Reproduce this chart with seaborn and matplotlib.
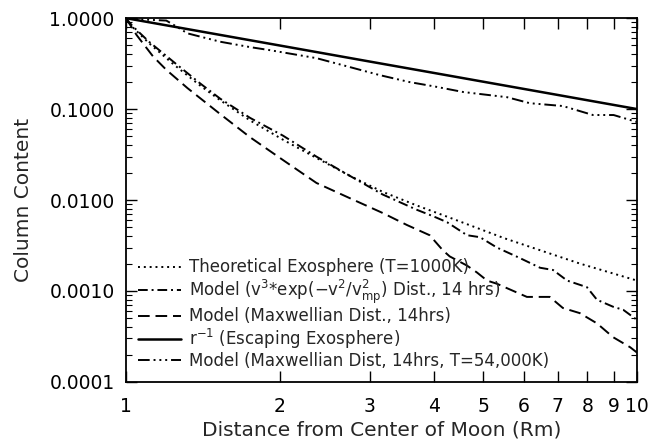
import matplotlib.pyplot as plt
import matplotlib.ticker as mticker
import pandas as pd
import seaborn as sns

# Data (log-log, x in Moon radii)
theory_x = [1.0, 1.03, 1.11, 1.24, 1.4, 1.53, 1.75, 2.03, 2.36, 2.74, 3.18, 3.71, 4.3, 5.5, 7.73, 10.0]
theory_y = [1.0, 0.80, 0.53, 0.31, 0.18, 0.125, 0.075, 0.046, 0.029, 0.0185, 0.0123, 0.0087,
            0.0064, 0.0038, 0.0020, 0.0013]

v3_x = [1.0, 1.03, 1.11, 1.24, 1.4, 1.53, 1.75, 2.03, 2.36, 2.74, 3.18, 3.71, 4.0, 4.25,
        4.65, 4.93, 5.32, 5.9, 6.46, 6.85, 7.3, 7.98, 8.35, 8.98, 9.4, 10.0]
v3_y = [1.0, 0.82, 0.55, 0.33, 0.19, 0.13, 0.08, 0.051, 0.030, 0.0185, 0.0115, 0.0078, 0.0066,
        0.0057, 0.0041, 0.0039, 0.0030, 0.0023, 0.0018, 0.0017, 0.0013, 0.0011, 0.0008,
        0.00067, 0.00062, 0.00048]

maxw_x = [1.0, 1.05, 1.13, 1.2, 1.32, 1.53, 1.75, 2.03, 2.36, 2.74, 3.18, 3.55, 3.93, 4.17,
          4.3, 4.65, 4.86, 5.09, 5.32, 6.09, 6.75, 7.16, 7.73, 8.35, 8.98, 9.7, 10.0]
maxw_y = [1.0, 0.65, 0.38, 0.27, 0.17, 0.088, 0.049, 0.0275, 0.0154, 0.0105, 0.0072, 0.0053,
          0.0041, 0.0028, 0.0024, 0.0019, 0.0016, 0.0013, 0.0012, 0.00086, 0.00086, 0.00065,
          0.00057, 0.00044, 0.00031, 0.00024, 0.00021]

escape_x = [1, 2, 3, 4, 5, 6, 7, 8, 9, 10]
escape_y = [1.0, 0.5, 0.333, 0.25, 0.2, 0.1667, 0.1429, 0.125, 0.1111, 0.1]

hot_x = [1.0, 1.1, 1.2, 1.26, 1.32, 1.53, 1.75, 1.91, 2.36, 2.74, 3.14, 3.59, 4.0, 4.57,
         5.57, 6.17, 7.16, 8.2, 9.0, 10.0]
hot_y = [1.0, 0.96, 0.94, 0.80, 0.68, 0.55, 0.48, 0.445, 0.363, 0.29, 0.236, 0.198, 0.178,
         0.154, 0.135, 0.116, 0.108, 0.086, 0.086, 0.072]

labels = [
    "Theoretical Exosphere (T=1000K)",
    r"Model (v$^3$*exp($-$v$^2$/v$^2_{\rm mp}$) Dist., 14 hrs)",
    "Model (Maxwellian Dist., 14hrs)",
    r"r$^{-1}$ (Escaping Exosphere)",
    "Model (Maxwellian Dist, 14hrs, T=54,000K)",
]
series = [(theory_x, theory_y), (v3_x, v3_y), (maxw_x, maxw_y),
          (escape_x, escape_y), (hot_x, hot_y)]
styles = [
    dict(linestyle=(0, (1, 2)), linewidth=1.4),
    dict(linestyle=(0, (5, 2, 1, 2)), linewidth=1.4),
    dict(linestyle=(0, (6, 3)), linewidth=1.4),
    dict(linestyle="-", linewidth=1.8),
    dict(linestyle=(0, (6, 2, 1, 2, 1, 2, 1, 2)), linewidth=1.4),
]

sns.set_style("ticks")
plt.rcParams["font.family"] = ["DejaVu Sans"]

fig = plt.figure(figsize=(6.52, 4.42), dpi=100)
ax = fig.add_axes([0.193, 0.136, 0.784, 0.823])

for lab, (xs, ys), st in zip(labels, series, styles):
    df = pd.DataFrame({"x": xs, "y": ys})
    sns.lineplot(data=df, x="x", y="y", ax=ax, color="black", sort=False,
                 estimator=None, label=lab, **st)

ax.set_xscale("log")
ax.set_yscale("log")
ax.set_xlim(1, 10)
ax.set_ylim(1e-4, 1.0)

ax.xaxis.set_major_locator(mticker.FixedLocator(range(1, 11)))
ax.xaxis.set_major_formatter(mticker.FixedFormatter([str(i) for i in range(1, 11)]))
ax.xaxis.set_minor_locator(mticker.NullLocator())
ax.yaxis.set_major_locator(mticker.LogLocator(base=10))
ax.yaxis.set_minor_locator(mticker.LogLocator(base=10, subs=range(2, 10)))
ax.yaxis.set_major_formatter(mticker.FuncFormatter(lambda v, p: f"{v:.4f}"))
ax.yaxis.set_minor_formatter(mticker.NullFormatter())

ax.tick_params(which="both", direction="in", top=True, right=True, colors="black",
               labelsize=13.5)
ax.tick_params(which="major", length=8, width=1.0)
ax.tick_params(which="minor", length=4, width=0.8)
ax.tick_params(axis="x", pad=11)
ax.tick_params(axis="y", pad=8)
for sp in ax.spines.values():
    sp.set_linewidth(1.3)
    sp.set_color("black")

ax.set_xlabel("Distance from Center of Moon (Rm)", fontsize=14.5, labelpad=3)
ax.set_ylabel("Column Content", fontsize=14.5, labelpad=12)

ax.legend(loc="lower left", frameon=False, fontsize=12, handlelength=2.6,
          handletextpad=0.5, labelspacing=0.08, borderaxespad=0.3,
          bbox_to_anchor=(0.0, 0.0))

fig.savefig("out.png", dpi=100)
